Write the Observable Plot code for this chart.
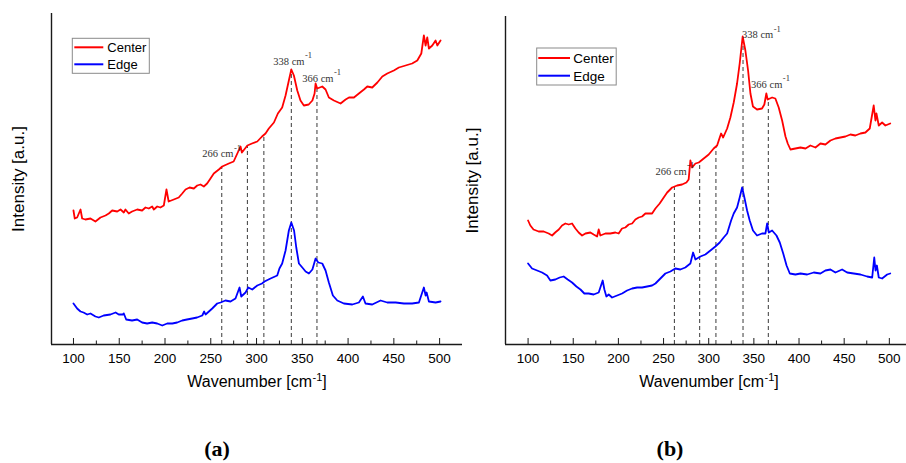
<!DOCTYPE html>
<html><head><meta charset="utf-8">
<script src="https://cdn.jsdelivr.net/npm/d3@7"></script>
<script src="https://cdn.jsdelivr.net/npm/@observablehq/plot@0.6"></script>
<style>
body{margin:0;background:#fff;}
#wrap{position:relative;width:906px;height:463px;background:#fff;overflow:hidden;}
#a{position:absolute;left:0;top:0;}
#b{position:absolute;left:462px;top:0;}
.cap{position:absolute;top:436px;line-height:1;font:bold 22px "Liberation Serif","Times New Roman",serif;transform:translateX(-50%);color:#000;}
</style></head><body>
<div id="wrap"><div id="a"></div><div id="b"></div>
<div class="cap" id="capA" style="left:217px"></div><div class="cap" id="capB" style="left:670px"></div></div>
<script>
// ---------- data ----------
const seriesNames = ["Center", "Edge"];
const seriesColors = ["#ff0000", "#0000ff"];
const panelCaptions = ["(a)", "(b)"];
const xTicks = [100, 150, 200, 250, 300, 350, 400, 450, 500];
const xMinorTicks = [125, 175, 225, 275, 325, 375, 425, 475];
const peakLines = [262, 290, 308, 338, 366];
const noteAt = [262, 338, 366];
const noteText = ["266 cm-1", "338 cm-1", "366 cm-1"];
const xLabel = "Wavenumber [cm-1]";
const yLabel = "Intensity [a.u.]";

// panel (a): [wavenumber, intensity]
const centerA = [[100,134],[101.4,126],[104,127],[107.7,135],[109.5,126],[113,125],[118.6,126],[124,123],[129.5,127],[135,129],[138.6,131],[142.3,134],[147.8,133],[151.4,135],[155,132],[156.8,135],[160.4,131],[164,133],[169.6,135],[175,134],[178.7,137],[182.3,136],[186,138],[187.8,135],[191.5,138],[195,137],[198.7,139],[201.6,155],[204,143],[209.6,145],[215,147],[218.8,151],[222.4,155],[226.8,157],[231.5,156],[235.2,159],[238.8,160],[242.4,158],[246,161],[249.7,166],[253.3,171],[258.8,175],[262.5,178],[269.7,181],[275,183],[277,187],[282.5,198],[284,192],[290,199],[295,201],[300.8,203],[306,208],[309.8,211],[313.4,216],[319,222],[323.3,231],[328,237],[331.7,249],[335.3,264],[338,275],[340.8,269],[344.5,254],[348,244],[351.7,239],[357,240],[361,244],[363.4,251],[364.5,261],[366.3,256],[371.8,258],[375.4,255],[379,247],[384.5,244],[391.8,241],[397.3,245],[401,247],[406.4,247],[411.8,251],[417.3,255],[421,258],[426.4,257],[432,262],[437.4,268],[442.8,271],[450,274],[455.5,277],[462.8,279],[470,281],[475.6,284],[480,291],[482.8,309],[484.7,299],[486.5,307],[488.3,296],[492,299],[495.6,304],[497.5,299],[501,304]];
const edgeA = [[100,41],[104,36],[107.7,33],[111,32],[115,30],[118.6,31],[124,28],[127.7,27],[133,29],[140.4,30],[146,32],[149.5,30],[153.9,30],[155,31],[157.6,25],[164,24],[169.6,25],[175,22],[180.5,21],[186,22],[191.5,21],[197,19],[202.4,21],[208,21],[213.3,22],[218.8,24],[224,25],[229.7,26],[235,27],[240.7,29],[242.8,33],[244.3,30],[251.6,36],[257,41],[260.7,42],[266,44],[271.6,43],[277,46],[281.4,57],[283.3,48],[288,52],[291,57],[295.3,55],[300.8,59],[306,61],[308.7,63],[315.3,66],[322.6,69],[325,76],[328,81],[331.7,94],[335.3,114],[338,122],[341,114],[343.4,97],[346.3,81],[350,77],[353.6,73],[357.2,71],[361,75],[364.5,86],[367.4,82],[371.8,81],[375.4,74],[379,62],[383.4,49],[388.2,44],[395.4,41],[404.6,40],[411.8,42],[416.2,48],[419,41],[426.4,40],[435.5,44],[442.8,42],[452,42],[461,41],[470,41],[477.4,42],[482.8,57],[484.7,49],[485.8,52],[488.3,43],[495.6,42],[501,43]];
// panel (b)
const centerB = [[100,124],[102.5,119],[106,115],[111.7,113],[117.3,113],[122.8,111],[126.6,109],[130,112],[134,115],[137.6,119],[141.3,121],[145,120],[148.7,121],[152.4,116],[156,112],[159.8,109],[163.5,111],[169,112],[172.6,110],[176.4,108],[178.2,115],[180,109],[185.6,111],[191,111],[196.7,112],[200.3,111],[204,116],[207.7,117],[211.4,120],[215.2,121],[218.8,125],[222.5,127],[226.2,128],[229.9,131],[233.6,131],[237.3,131],[241,136],[245.7,141],[250.2,147],[254,152],[259.5,157],[265,159],[270.5,160],[275.3,162],[277.8,165],[279.7,184],[281.6,177],[285.3,181],[289,182],[294.5,186],[300,190],[305.5,196],[309.3,199],[312.2,207],[313.7,211],[316,207],[320.4,216],[324,227],[327.7,242],[331.4,261],[334.3,281],[337.6,308],[340.6,294],[343.6,274],[346.2,251],[349,238],[353.5,235],[359,236],[361.6,240],[363.8,251],[365.3,245],[370.2,247],[373.8,246],[377.5,237],[381.3,224],[385,208],[387.5,201],[390.5,195],[396,196],[401.6,197],[407.2,196],[412.6,199],[418.2,197],[423.7,201],[429.2,200],[434.8,204],[440.3,206],[445.8,207],[451.4,208],[456.9,210],[462.4,209],[468,211],[473.5,212],[478.3,216],[482.7,239],[484.6,224],[485.7,231],[488.3,219],[492,222],[495.6,219],[501,221]];
const edgeB = [[100,81],[104.4,76],[110,74],[115.5,72],[121,69],[124.7,64],[130.2,65],[135,67],[139.4,68],[143.9,65],[148.7,62],[153.5,58],[158,55],[162.3,51],[167.1,51],[172.6,50],[178.2,52],[182.6,64],[184.5,55],[186.7,48],[189.3,50],[193,47],[198.6,49],[204.1,51],[209.6,54],[215.2,56],[220.7,57],[226.2,57],[231.8,58],[237.3,59],[241,61],[246.5,66],[252,71],[257.6,73],[263,76],[268.6,75],[274.1,77],[279.7,81],[282.7,92],[285.3,85],[290.8,88],[296.3,90],[301.9,94],[307.4,98],[312.2,102],[316.6,107],[320.4,111],[324.8,124],[327.7,131],[331.4,137],[334.3,147],[337,157],[339.5,147],[342.5,134],[345.4,124],[349,114],[353.5,109],[359,111],[362.8,111],[364.7,121],[366.6,112],[370.2,114],[375,109],[378.7,102],[382.5,91],[386.2,79],[389.8,71],[396,70],[401.6,71],[409,70],[416.3,72],[423.7,71],[429.2,74],[434.8,75],[440.3,72],[447.7,75],[453.3,72],[460.6,71],[468,70],[475.4,68],[481,67],[483.3,87],[484.7,74],[486.2,79],[488.3,67],[492,66],[497.6,70],[501,71]];

// ---------- helpers ----------
const toRows = a => a.map(([x, v]) => ({x, v}));
function valueAt(rows, x) {
  const i = d3.bisector(d => d.x).left(rows, x);
  if (i <= 0) return rows[0].v;
  if (i >= rows.length) return rows[rows.length - 1].v;
  const a = rows[i - 1], b = rows[i];
  if (b.x === x) return b.v;
  return a.v + (x - a.x) / (b.x - a.x) * (b.v - a.v);
}
function legendMark(cfg) {
  return (index, scales, values, dims) => {
    const g = d3.create("svg:g");
    const x0 = dims.marginLeft + cfg.ox, y0 = dims.marginTop + cfg.oy;
    g.append("rect").attr("x", x0).attr("y", y0).attr("width", cfg.w).attr("height", cfg.h)
      .attr("fill", "#fff").attr("stroke", "#8a8a8a").attr("stroke-width", 1);
    seriesNames.forEach((name, i) => {
      const cy = y0 + cfg.row0 + i * cfg.gap;
      g.append("line").attr("x1", x0 + cfg.l0).attr("x2", x0 + cfg.l1).attr("y1", cy).attr("y2", cy)
        .attr("stroke", seriesColors[i]).attr("stroke-width", 2);
      g.append("text").attr("x", x0 + cfg.tx).attr("y", cy + cfg.fs * 0.36).attr("font-size", cfg.fs)
        .attr("text-anchor", "start")
        .attr("font-family", "Liberation Sans, Arial, sans-serif").attr("fill", "#000").text(name);
    });
    return g.node();
  };
}
function superscripts(svg) {
  const ns = "http://www.w3.org/2000/svg";
  d3.select(svg).selectAll("text").each(function() {
    const t = this.textContent;
    const m = t.match(/^(.*cm)-1(\]?)$/);
    if (!m) return;
    const isLabel = m[2] === "]";
    const sfs = isLabel ? 11 : 8.5, sdy = isLabel ? 6 : 6.5;
    this.textContent = "";
    const a = document.createElementNS(ns, "tspan"); a.textContent = m[1]; this.appendChild(a);
    const s = document.createElementNS(ns, "tspan");
    s.setAttribute("dy", -sdy); s.setAttribute("font-size", sfs); s.setAttribute("dx", 0.5);
    s.textContent = "-1"; this.appendChild(s);
    if (m[2]) { const c = document.createElementNS(ns, "tspan"); c.setAttribute("dy", sdy); c.textContent = m[2]; this.appendChild(c); }
  });
}

function panel(cfg) {
  const H = 400, mb = 56;
  const C = toRows(cfg.center), E = toRows(cfg.edge);
  const rules = peakLines.map(x => ({x, top: valueAt(C, x)}));
  const frameH = H - cfg.marginTop - mb;
  const axisColor = "#1a1a1a";
  const noteMarks = noteAt.map((x, i) => Plot.text([{x, v: valueAt(C, x), t: noteText[i]}], {
    x: "x", y: "v", text: "t", textAnchor: "start", lineAnchor: "bottom",
    dx: cfg.notes[i][0], dy: cfg.notes[i][1], fontSize: 10.5, fill: "#333",
    fontFamily: "Liberation Serif, Times New Roman, serif"
  }));
  const svg = Plot.plot({
    width: cfg.width, height: H,
    marginLeft: cfg.marginLeft, marginRight: 0, marginTop: cfg.marginTop, marginBottom: mb,
    x: {domain: cfg.xDomain, ticks: xTicks, tickSize: 0, tickPadding: 9, label: null, tickFormat: d => String(d)},
    y: {domain: [0, cfg.yMax], axis: null},
    style: {fontFamily: "Liberation Sans, Arial, sans-serif", fontSize: "13.5px", background: "#fff", color: "#000", overflow: "visible"},
    marks: [
      Plot.ruleX(rules, {x: "x", y1: 0, y2: "top", stroke: "#3a3a3a", strokeDasharray: "4,3", strokeWidth: 1}),
      Plot.line(C, {x: "x", y: "v", stroke: seriesColors[0], strokeWidth: 1.8}),
      Plot.line(E, {x: "x", y: "v", stroke: seriesColors[1], strokeWidth: 1.8}),
      Plot.ruleX(xTicks, {x: d => d, stroke: axisColor, strokeWidth: 1, insetTop: frameH - 6}),
      Plot.ruleX(xMinorTicks, {x: d => d, stroke: axisColor, strokeWidth: 1, insetTop: frameH - 3.5}),
      Plot.ruleX([cfg.xDomain[0]], {x: d => d, stroke: axisColor, strokeWidth: 1.4}),
      Plot.ruleY([0], {y: d => d, stroke: axisColor, strokeWidth: 1.4}),
      ...noteMarks,
      Plot.text([yLabel], {text: d => d, frameAnchor: "left", dx: cfg.ylabDx, rotate: -90, fontSize: 17, textAnchor: "middle", fill: "#000"}),
      Plot.text([xLabel], {text: d => d, frameAnchor: "bottom", dx: cfg.xlabDx, dy: 42, fontSize: 16, textAnchor: "middle", fill: "#000"}),
      legendMark(cfg.legend)
    ]
  });
  superscripts(svg);
  return svg;
}

document.getElementById("a").appendChild(panel({
  center: centerA, edge: edgeA, width: 462, marginLeft: 51, marginTop: 13,
  xDomain: [76, 525], yMax: 331, ylabDx: -32.5, xlabDx: 0,
  notes: [[-19.5, -9.5], [-18, -5], [-14.7, -6]],
  legend: {ox: 21.3, oy: 25.3, w: 77, h: 35, row0: 9, gap: 17, l0: 2, l1: 31, tx: 35, fs: 13}
}));
document.getElementById("b").appendChild(panel({
  center: centerB, edge: edgeB, width: 444, marginLeft: 43, marginTop: 16,
  xDomain: [75, 519], yMax: 328, ylabDx: -33, xlabDx: 3,
  notes: [[-19, -11.7], [-1, 0], [-17.2, -11.7]],
  legend: {ox: 31.7, oy: 32, w: 79.5, h: 37, row0: 10, gap: 17.7, l0: 1.6, l1: 33.3, tx: 36.6, fs: 13.5}
}));
document.getElementById("capA").textContent = panelCaptions[0];
document.getElementById("capB").textContent = panelCaptions[1];
</script></body></html>
